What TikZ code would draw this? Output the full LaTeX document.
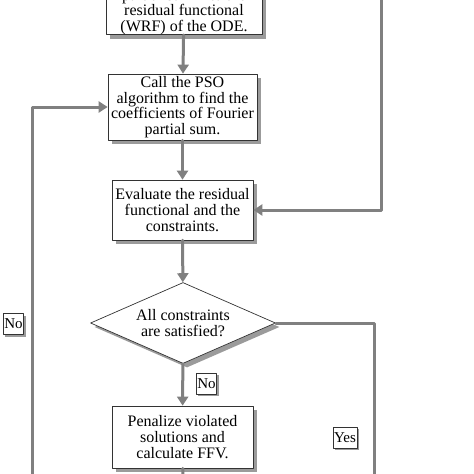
\documentclass[tikz,border=0pt]{standalone}
\usepackage{fontspec}
\setmainfont{Liberation Serif}
\usepackage{pgf,tikz}
\usetikzlibrary{arrows}
\usetikzlibrary{arrows.meta}
\usetikzlibrary{shapes.geometric}
\usetikzlibrary{shadows}
\definecolor{xdxdxd}{rgb}{0.5,0.5,0.5}
\definecolor{zzzzzz}{rgb}{0.35,0.35,0.35}
\begin{document}
\begin{tikzpicture}[line cap=round,line join=round,>={Triangle[width=11pt,length=9pt]},x=1pt,y=-1pt,
  stepbox/.style={draw=black!80,fill=white,line width=0.7pt,align=center,inner sep=0pt,
    font=\fontsize{16}{15.6}\selectfont,
    drop shadow={shadow xshift=4pt,shadow yshift=-4pt,fill=zzzzzz,opacity=0.6}},
  tag/.style={draw=black!80,fill=white,line width=0.7pt,inner xsep=1pt,inner ysep=0pt,
    minimum height=21pt,font=\fontsize{15}{15}\selectfont,
    drop shadow={shadow xshift=2pt,shadow yshift=-2pt,fill=zzzzzz,opacity=0.6}},
  flow/.style={color=xdxdxd,line width=3pt}]
\useasboundingbox (0,0) rectangle (474,474);
% boxes
\node[stepbox,anchor=south,minimum width=156] (wrf) at (184,35) {Substitute the Fourier\\partial sum into the\\residual functional\\(WRF) of the ODE.};
\node[stepbox,minimum width=149,minimum height=66] (pso) at (182.5,107) {Call the PSO\\algorithm to find the\\coefficients of Fourier\\partial sum.};
\node[stepbox,minimum width=141,minimum height=60] (eval) at (182.5,210) {Evaluate the residual\\functional and the\\constraints.};
\node[stepbox,diamond,aspect=2.3,minimum width=185,minimum height=81] (check) at (183,323) {All constraints\\are satisfied?};
\node[stepbox,minimum width=141,minimum height=62] (pen) at (182.5,437) {Penalize violated\\solutions and\\calculate FFV.};
% free ends
\coordinate (rtop) at (381,-10);
\coordinate (lbot) at (32,485);
\coordinate (ybot) at (374,485);
\coordinate (pdown) at (183,485);
% connectors
\draw[flow,->] (wrf) -- (pso);
\draw[flow,->] (pso) -- (eval);
\draw[flow,->] (eval) -- (check);
\draw[flow,->] (check) -- (pen);
\draw[flow] (pen) -- (pdown);
\draw[flow,->] (rtop) |- (eval.east);
\draw[flow,->] (lbot) |- (pso.west);
\draw[flow] (check.east) -| (ybot);
% labels
\node[tag] (nobelow) at (206.5,383.5) {No};
\node[tag] (noleft) at (13.5,324) {No};
\node[tag] (yes) at (345,437.5) {Yes};
\end{tikzpicture}
\end{document}
